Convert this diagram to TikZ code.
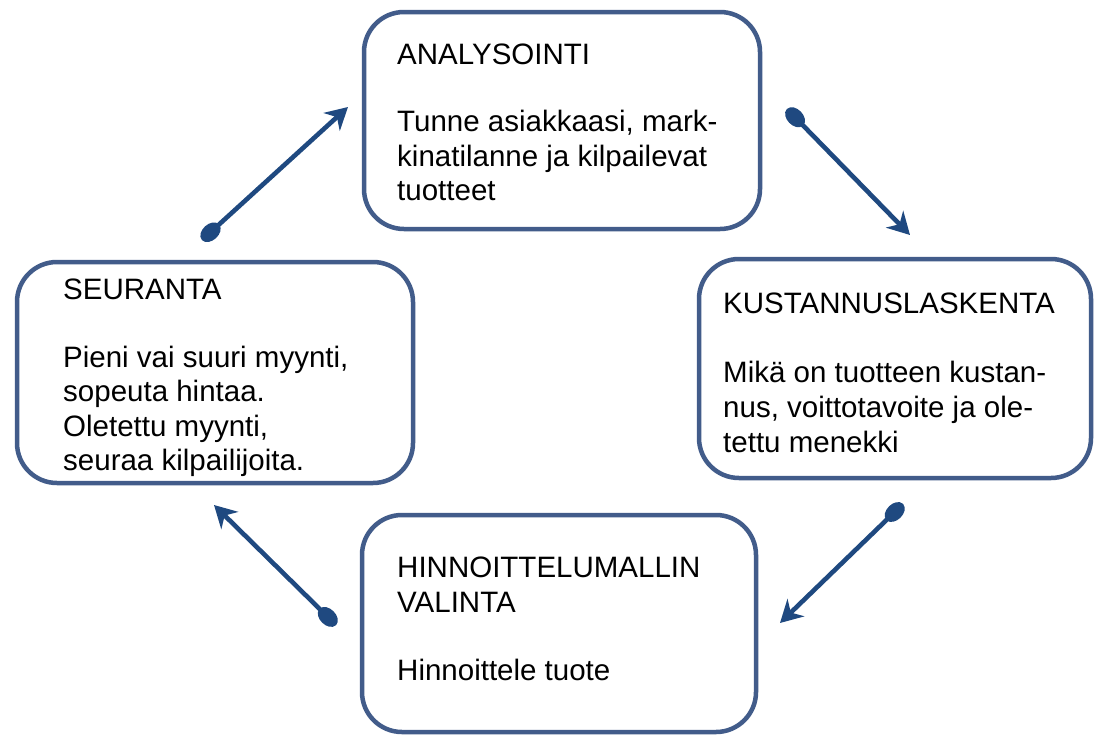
\documentclass[tikz,border=0pt]{standalone}
\usepackage{fontspec}
\setmainfont{Liberation Sans}
\usetikzlibrary{arrows.meta}
\definecolor{boxline}{RGB}{66,92,138}
\definecolor{arrowblue}{RGB}{31,73,128}
\tikzset{
  stagebox/.style={draw=boxline, line width=4.5pt, rounded corners=40pt, fill=white},
  txt/.style={anchor=base west, inner sep=0pt, font=\fontsize{29.5pt}{34.5pt}\selectfont, text=black},
  conn/.style={draw=arrowblue, line width=4.6pt,
    {Ellipse[length=23pt,width=16pt]}-{Stealth[length=22pt,width=24pt,inset=7pt]}}
}
\begin{document}
\begin{tikzpicture}[x=1pt,y=-1pt]
\useasboundingbox (0,0) rectangle (1097,736);
\fill[white] (0,0) rectangle (1097,736);

% boxes
\draw[stagebox] (364,12) rectangle (760,229) node[midway, inner sep=0pt] (ana) {};
\draw[stagebox] (17,262) rectangle (413,483) node[midway, inner sep=0pt] (seu) {};
\draw[stagebox] (699,259) rectangle (1091,478) node[midway, inner sep=0pt] (kus) {};
\draw[stagebox] (362,515) rectangle (756,732) node[midway, inner sep=0pt] (hin) {};

% texts
\node[txt] (ana1) at (397,64) {ANALYSOINTI};
\node[txt] (ana2) at (397,131) {Tunne asiakkaasi, mark-};
\node[txt] (ana3) at (397,166) {kinatilanne ja kilpailevat};
\node[txt] (ana4) at (397,200) {tuotteet};

\node[txt] (seu1) at (63,299) {SEURANTA};
\node[txt] (seu2) at (63,367) {Pieni vai suuri myynti,};
\node[txt] (seu3) at (63,401) {sopeuta hintaa.};
\node[txt] (seu4) at (63,436) {Oletettu myynti,};
\node[txt] (seu5) at (63,470) {seuraa kilpailijoita.};

\node[txt] (kus1) at (723,313) {KUSTANNUSLASKENTA};
\node[txt] (kus2) at (723,382) {Mikä on tuotteen kustan-};
\node[txt] (kus3) at (723,417) {nus, voittotavoite ja ole-};
\node[txt] (kus4) at (723,452) {tettu menekki};

\node[txt] (hin1) at (397,577) {HINNOITTELUMALLIN};
\node[txt] (hin2) at (397,612) {VALINTA};
\node[txt] (hin3) at (397,680) {Hinnoittele tuote};

% connector ends
\coordinate (s1) at (202,240);   \coordinate (e1) at (348,107);
\coordinate (s2) at (787,109);   \coordinate (e2) at (910,235);
\coordinate (s3) at (903,504);   \coordinate (e3) at (780,623);
\coordinate (s4) at (336,625);   \coordinate (e4) at (214,505);

\draw[conn] (s1) -- (e1);
\draw[conn] (s2) -- (e2);
\draw[conn] (s3) -- (e3);
\draw[conn] (s4) -- (e4);
\end{tikzpicture}
\end{document}
